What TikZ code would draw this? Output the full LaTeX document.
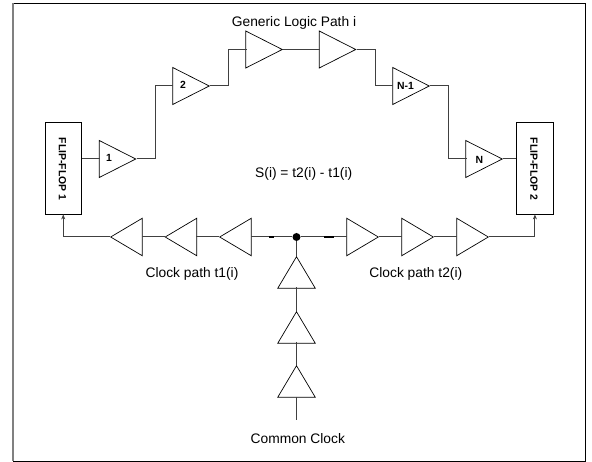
\documentclass[tikz,border=0pt]{standalone}
\usepackage{fontspec}
\setmainfont{Liberation Sans}
\usetikzlibrary{shapes.geometric,arrows.meta}
\definecolor{wire}{HTML}{404040}
\tikzset{
  x=1pt,y=-1pt,
  gate/.style={shape=isosceles triangle,isosceles triangle apex angle=53.8,draw=black,line width=0.7pt,inner sep=0pt,minimum height=36.5pt,minimum width=37pt,anchor=apex,shape border rotate=#1},
  gate/.default=0,
  clk/.style={shape=isosceles triangle,isosceles triangle apex angle=61.4,draw=black,line width=0.7pt,inner sep=0pt,minimum height=31.5pt,minimum width=37pt,anchor=apex,shape border rotate=#1},
  clk/.default=0,
  ff/.style={draw=black,line width=0.8pt,minimum width=36.5pt,minimum height=91.5pt,inner sep=0pt},
  ffl/.style={font=\bfseries\fontsize{10.4}{12}\selectfont,rotate=-90,inner sep=0pt},
  gl/.style={font=\bfseries\fontsize{10.4}{12}\selectfont,inner sep=0pt},
  captext/.style={font=\fontsize{13.8}{16}\selectfont,inner sep=0pt},
  wirel/.style={draw=wire,line width=1pt},
  darkseg/.style={draw=black,line width=1.05pt},
  arr/.style={wirel,-{Stealth[length=5pt,width=4pt,inset=1.5pt]}},
}
\begin{document}
\begin{tikzpicture}
\useasboundingbox (0,0) rectangle (592,462);
\draw[line width=0.7pt,draw=black] (13,3.5) -- (585,3.5) -- (585,461) -- (13,461);
\draw[line width=1.2pt,draw=gray] (13,3.5) -- (13,461);
% flip-flops
\node[ff] (ff1) at (63.25,168.25) {};
\node[ffl] at (62.5,169) {FLIP-FLOP 1};
\node[ff] (ff2) at (534.9,168.25) {};
\node[ffl] at (534,169) {FLIP-FLOP 2};
% logic path
\node[gate] (g1) at (136.5,159) {};
\node[gate] (g2) at (210,86) {};
\node[gate] (g3) at (283,49.5) {};
\node[gate] (g4) at (356.5,49.5) {};
\node[gate] (g5) at (430,86) {};
\node[gate] (g6) at (503,159) {};
\node[gl] at (109,158) {1};
\node[gl] at (183,85) {2};
\node[gl] at (405.5,86) {N-1};
\node[gl] at (479.5,160) {N};
\draw[wirel] (ff1.east |- g1.apex) -- (100,159);
\coordinate (b1) at (155,159);
\draw[wirel] (g1.apex) -- (b1) -- (b1 |- g2.apex) -- (173,86);
\coordinate (b2) at (228.5,86);
\draw[wirel] (g2.apex) -- (b2) -- (b2 |- g3.apex) -- (246.5,49.5);
\draw[wirel] (g3.apex) -- (319.7,49.5);
\coordinate (b4) at (375,49.5);
\draw[wirel] (g4.apex) -- (b4) -- (b4 |- g5.apex) -- (393,86);
\coordinate (b5) at (448.5,86);
\draw[wirel] (g5.apex) -- (b5) -- (b5 |- g6.apex) -- (466.5,159);
\draw[wirel] (g6.apex) -- (ff2.west |- g6.apex);
% clock
\node[clk=180] (c1) at (110,237) {};
\node[clk=180] (c2) at (164.5,237) {};
\node[clk=180] (c3) at (219,237) {};
\node[clk] (c4) at (379,237) {};
\node[clk] (c5) at (434,237) {};
\node[clk] (c6) at (489,237) {};
\node[clk=90] (v1) at (296.5,256) {};
\node[clk=90] (v2) at (296.5,311) {};
\node[clk=90] (v3) at (296.5,365) {};
\node[circle,fill=black,inner sep=0pt,minimum size=8pt] (j) at (296.5,237) {};
\coordinate (cin) at (296.5,420);
\coordinate (lb) at (63.25,237);
\coordinate (rb) at (534.9,237);
\draw[arr] (c1.apex) -- (lb) -- (ff1.south);
\draw[arr] (c6.apex) -- (rb) -- (ff2.south);
\draw[wirel] (c2.apex) -- (141.5,237);
\draw[wirel] (c3.apex) -- (196,237);
\draw[wirel] (j) -- (251,237);
\draw[wirel] (j) -- (347,237);
\draw[wirel] (c4.apex) -- (402,237);
\draw[wirel] (c5.apex) -- (457,237);
\draw[darkseg] (269,237) -- (274,237);
\draw[darkseg] (324,237) -- (334,237);
\draw[wirel] (j) -- (v1.apex);
\draw[wirel] (296.5,287.3) -- (v2.apex);
\draw[wirel] (296.5,342) -- (v3.apex);
\draw[wirel] (296.5,397) -- (cin);
% texts
\node[captext] (t1) at (294,22.5) {Generic Logic Path i};
\node[captext] (t2) at (303.7,174) {S(i) = t2(i) - t1(i)};
\node[captext] (t3) at (192,273.5) {Clock path t1(i)};
\node[captext] (t4) at (415.8,273.5) {Clock path t2(i)};
\node[captext] (t5) at (297.8,438.5) {Common Clock};
\end{tikzpicture}
\end{document}
